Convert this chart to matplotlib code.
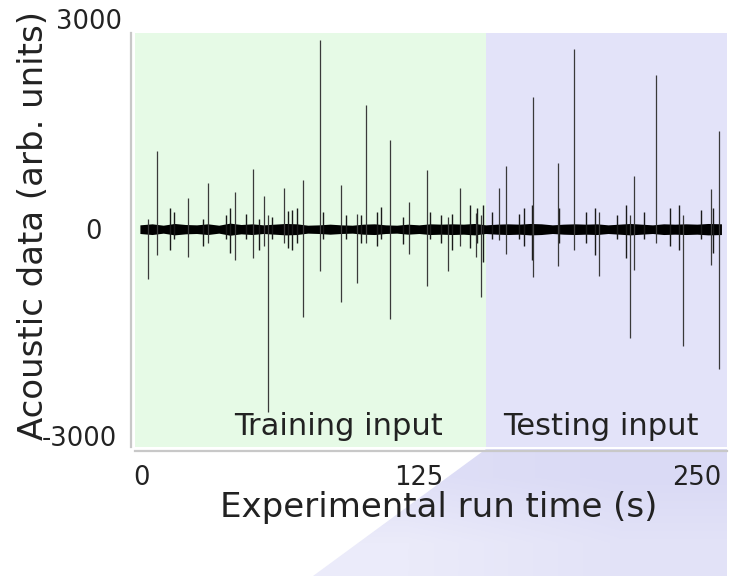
import matplotlib
matplotlib.use("Agg")
import matplotlib.pyplot as plt
from matplotlib import patches, transforms
from matplotlib.colors import LinearSegmentedColormap
import numpy as np

# large events: time (s), positive peak, negative peak (arb. units)
spike_t = [3.1, 7.3, 21.3, 30.0, 42.3, 50.2, 55.3, 57.3, 64.4, 72.8, 80.5, 89.9,
           97.0, 101.2, 111.8, 120.3, 128.7, 138.2, 143.3, 150.5, 152.9,
           161.0, 164.1, 176.4, 187.6, 194.7, 205.9, 220.0, 221.8, 231.4,
           243.8, 256.4, 260.0]
spike_hi = [150, 1130, 450, 660, 540, 870, 470, 200, 600, 710, 2730, 640,
            220, 1790, 1280, 395, 860, 180, 600, 230, 200,
            600, 910, 1910, 960, 2600, 250, 200, 770, 2220,
            200, 575, 1410]
spike_lo = [-720, -380, -400, -200, -450, -415, -250, -2650, -200, -1270, -610, -1060,
            -780, -200, -1300, -360, -820, -600, -250, -400, -980,
            -160, -360, -700, -530, -310, -675, -1580, -590, -200,
            -1690, -520, -2020]

# smaller bursts riding on the background noise
burst_t = [13, 15, 28, 38, 40, 47, 53, 59, 66, 68, 70, 82, 92, 99, 106, 108,
           118, 130, 135, 140, 148, 151, 154, 158, 170, 172, 176, 188, 200,
           204, 214, 218, 226, 238, 242, 252, 257]
burst_hi = [300, 250, 150, 200, 300, 220, 150, 180, 260, 280, 300, 250, 200, 200,
            250, 320, 180, 250, 200, 220, 350, 300, 340, 250, 220, 300, 350, 300,
            250, 300, 200, 350, 250, 300, 350, 280, 300]
burst_lo = [-300, -150, -250, -150, -350, -150, -300, -150, -280, -300, -200, -150,
            -150, -200, -250, -150, -220, -150, -200, -300, -280, -200, -480, -150,
            -150, -250, -450, -200, -200, -380, -150, -420, -150, -250, -300, -150,
            -350]

# background noise envelope, every 5 s
env_t = [-0.5, 5, 10, 15, 20, 25, 30, 35, 40, 45, 50, 55, 60, 65, 70, 75, 80, 85,
         90, 95, 100, 105, 110, 115, 120, 125, 130, 135, 140, 145, 150, 155,
         160, 165, 170, 175, 180, 185, 190, 195, 200, 205, 210, 215, 220, 225,
         230, 235, 240, 245, 250, 255, 261]
env_hi = [60, 75, 55, 80, 65, 60, 75, 55, 85, 65, 75, 60, 70, 80, 75, 55, 60, 70,
          60, 55, 70, 75, 60, 55, 70, 60, 75, 70, 75, 70, 80, 60, 70, 75, 70, 80,
          75, 60, 70, 75, 70, 75, 60, 70, 80, 70, 60, 75, 70, 75, 70, 80, 75]
env_lo = [-65, -80, -60, -85, -70, -65, -80, -60, -90, -70, -80, -65, -75, -85,
          -80, -60, -65, -75, -65, -60, -75, -80, -65, -60, -75, -65, -80, -75,
          -80, -75, -85, -65, -75, -80, -75, -85, -80, -65, -75, -80, -75, -80,
          -65, -75, -85, -75, -65, -80, -75, -80, -75, -85, -80]

split_time = 155
x_ticks = [0, 125, 250]
y_ticks = [-3000, 0]

text_color = "#222222"
plt.rcParams["font.family"] = "DejaVu Sans"
plt.rcParams["axes.unicode_minus"] = False

fig = plt.figure(figsize=(7.3, 5.76), dpi=100)

# light lavender wedge under the testing half of the axis
bg = fig.add_axes([0, 0, 1, 1], zorder=-1)
bg.set_xlim(0, 730)
bg.set_ylim(576, 0)
bg.axis("off")
grad = np.array([[0.3, 0.0], [1.0, 0.5]])
img = bg.imshow(grad, extent=(300, 730, 576, 445),
                cmap=LinearSegmentedColormap.from_list("wedge", ["#dadaf5", "#ebebfa"]),
                vmin=0, vmax=1, interpolation="bilinear", aspect="auto")
wedge = patches.Polygon([(486, 449), (727, 449), (727, 576), (313, 576)],
                        closed=True, transform=bg.transData)
img.set_clip_path(wedge)

ax = fig.add_axes([135 / 730, 1 - 447 / 576, 592 / 730, 414 / 576])
ax.set_facecolor("none")
xmin, xmax = -2.7, 263.5
ax.set_xlim(xmin, xmax)
ax.set_ylim(-3152, 2834)

ax.axvspan(xmin, split_time, color="#e6fae6", zorder=0, lw=0)
ax.axvspan(split_time, xmax, color="#e3e3f9", zorder=0, lw=0)

ax.fill_between(env_t, env_lo, env_hi, color="black", lw=0, zorder=2)
ax.vlines(burst_t, burst_lo, burst_hi, color="#1a1a1a", lw=1.0, zorder=2)
ax.vlines(spike_t, spike_lo, spike_hi, color="#3a3a3a", lw=0.9, zorder=3)

ax.text(88.6, -2850, "Training input", ha="center", va="center",
        fontsize=22, color=text_color)
ax.text(206.8, -2850, "Testing input", ha="center", va="center",
        fontsize=22, color=text_color)

for side in ["top", "right"]:
    ax.spines[side].set_visible(False)
for side in ["left", "bottom"]:
    ax.spines[side].set_color("#c8c8c8")
    ax.spines[side].set_linewidth(1.6)
    ax.spines[side].set_position(("outward", 3))

ax.set_xticks(x_ticks)
ax.set_yticks(y_ticks)
ax.tick_params(length=0, labelsize=18.5, labelcolor=text_color)
ax.tick_params(axis="x", pad=10)
ax.tick_params(axis="y", pad=10)

# the zero label sits a little further from the axis
zero_tick = ax.yaxis.get_major_ticks()[1]
zero_tick.label1.set_transform(zero_tick.label1.get_transform()
                               + transforms.ScaledTranslation(-15 / 100, 0, fig.dpi_scale_trans))

# top tick label sits just above the plotting area
ytrans = transforms.blended_transform_factory(ax.transAxes, ax.transData)
ax.text(0, 3000, "3000",
        transform=ytrans + transforms.ScaledTranslation(-13 / 100, 0, fig.dpi_scale_trans),
        ha="right", va="center", fontsize=18.5, color=text_color, clip_on=False)

ax.set_xlabel("Experimental run time (s)", fontsize=24.5, color=text_color, labelpad=0)
ax.xaxis.label.set_x(0.513)
ax.set_ylabel("Acoustic data (arb. units)", fontsize=24.5, color=text_color, labelpad=-6)
ax.yaxis.label.set_y(0.535)

fig.savefig("out.png", dpi=100)
